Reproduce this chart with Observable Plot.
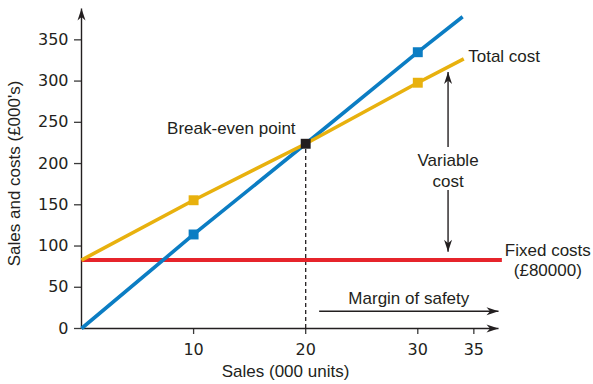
<!DOCTYPE html>
<html>
<head>
<meta charset="utf-8">
<script src="https://cdn.jsdelivr.net/npm/d3@7"></script>
<script src="https://cdn.jsdelivr.net/npm/@observablehq/plot@0.6"></script>
<style>
  html, body { margin: 0; padding: 0; background: #fff; }
  #chart svg { display: block; }
</style>
</head>
<body>
<div id="chart"></div>
<script>
// ---- data ----
const xTicks = [10, 20, 30, 35];
const yTicks = [0, 50, 100, 150, 200, 250, 300, 350];

const salesX = [0, 10, 20, 30, 34.0];
const salesY = [0, 114, 224, 335, 378];

const totalX = [0, 10, 20, 30, 34.1];
const totalY = [83, 155.5, 224, 298, 327];

const fixedX = [0, 37.5];
const fixedY = [83, 83];

const salesMarkX = [10, 30];
const salesMarkY = [114, 335];
const totalMarkX = [10, 30];
const totalMarkY = [155.5, 298];
const breakEvenX = [20];
const breakEvenY = [224];

const xLabel = "Sales (000 units)";
const yLabel = "Sales and costs (£000's)";
const labelsEnd = [{text: "Break-even point", x: 19.1, y: 242}];
const labelsStart = [{text: "Total cost", x: 34.5, y: 330}];
const labelsMiddle = [
  {text: "Variable\ncost", x: 32.7, y: 192},
  {text: "Fixed costs\n(£80000)", x: 41.6, y: 84},
  {text: "Margin of safety", x: 29.2, y: 37.5}
];

// annotation arrows: head at (x2, y2)
const arrows = [
  {x1: 0, y1: 0, x2: 37.2, y2: 0, dir: "right"},      // x axis
  {x1: 0, y1: 0, x2: 0, y2: 388, dir: "up"},          // y axis
  {x1: 21.2, y1: 21, x2: 37.2, y2: 21, dir: "right"}, // margin of safety
  {x1: 32.7, y1: 220, x2: 32.7, y2: 311, dir: "up"},  // variable cost up
  {x1: 32.7, y1: 168, x2: 32.7, y2: 93, dir: "down"}  // variable cost down
];

// ---- build ----
const pts = (xs, ys) => xs.map((x, i) => ({x, y: ys[i]}));

const stealth = (dir) => ({
  draw(ctx) {
    // tip at origin, body behind it
    const L = 12, W = 4, N = 8.5;
    const p = [[0, 0], [-L, -W], [-N, 0], [-L, W]];
    const rot = dir === "right" ? ([a, b]) => [a, b]
              : dir === "up" ? ([a, b]) => [b, -a]
              : ([a, b]) => [b, a];
    const q = p.map(rot);
    ctx.moveTo(q[0][0], q[0][1]);
    for (let i = 1; i < q.length; i++) ctx.lineTo(q[i][0], q[i][1]);
    ctx.closePath();
  }
});

const BLUE = "#0b7dc3", YELLOW = "#e8b10e", RED = "#e6242b", DARK = "#231f20", AXIS = "#3a3a3a";
const FONT = "Liberation Sans, Arial, sans-serif";
const TICKFONT = "DejaVu Sans, sans-serif";
const FS = 17;

const plot = Plot.plot({
  width: 593,
  height: 384,
  marginLeft: 81,
  marginRight: 95,
  marginTop: 8,
  marginBottom: 56,
  style: {fontFamily: FONT, fontSize: "16px", color: DARK, background: "#fff"},
  x: {domain: [0, 37.2]},
  y: {domain: [0, 388]},
  marks: [
    Plot.axisX({ticks: xTicks, tickSize: 6, tickPadding: 9, label: null, fontSize: 16, fontFamily: TICKFONT, fill: DARK, stroke: AXIS, strokeWidth: 1.3}),
    Plot.axisY({ticks: yTicks, tickSize: 7, tickPadding: 6, label: null, fontSize: 16, fontFamily: TICKFONT, fill: DARK, stroke: AXIS, strokeWidth: 1.3}),
    // axis titles
    Plot.text([xLabel], {x: 18.2, frameAnchor: "bottom", lineAnchor: "middle", dy: 43, text: d => d, fontSize: FS, fill: DARK}),
    Plot.text([yLabel], {y: 188, frameAnchor: "left", textAnchor: "middle", lineAnchor: "middle", dx: -67, rotate: -90, text: d => d, fontSize: FS, fill: DARK}),
    // arrows (axes + annotations)
    Plot.link(arrows, {x1: "x1", y1: "y1", x2: "x2", y2: "y2", stroke: DARK, strokeWidth: 1.4}),
    ...["right", "up", "down"].map(dir =>
      Plot.dot(arrows.filter(a => a.dir === dir), {x: "x2", y: "y2", symbol: stealth(dir), r: 5, fill: DARK, stroke: "none"})
    ),
    // break-even dashed drop line
    Plot.ruleX(breakEvenX, {x: d => d, y1: 0, y2: breakEvenY[0], stroke: DARK, strokeWidth: 1.3, strokeDasharray: "4,3"}),
    // lines
    Plot.line(pts(fixedX, fixedY), {x: "x", y: "y", stroke: RED, strokeWidth: 4, strokeLinecap: "butt"}),
    Plot.line(pts(salesX, salesY), {x: "x", y: "y", stroke: BLUE, strokeWidth: 3.6, strokeLinecap: "butt"}),
    Plot.line(pts(totalX, totalY), {x: "x", y: "y", stroke: YELLOW, strokeWidth: 3.6, strokeLinecap: "butt"}),
    // markers
    Plot.dot(pts(salesMarkX, salesMarkY), {x: "x", y: "y", symbol: "square", r: 5.6, fill: BLUE, stroke: "none"}),
    Plot.dot(pts(totalMarkX, totalMarkY), {x: "x", y: "y", symbol: "square", r: 5.6, fill: YELLOW, stroke: "none"}),
    Plot.dot(pts(breakEvenX, breakEvenY), {x: "x", y: "y", symbol: "square", r: 5.6, fill: DARK, stroke: "none"}),
    // labels
    Plot.text(labelsEnd, {x: "x", y: "y", text: "text", textAnchor: "end", fontSize: FS, fill: DARK}),
    Plot.text(labelsStart, {x: "x", y: "y", text: "text", textAnchor: "start", fontSize: FS, fill: DARK}),
    Plot.text(labelsMiddle, {x: "x", y: "y", text: "text", textAnchor: "middle", fontSize: FS, lineHeight: 1.22, fill: DARK})
  ]
});

document.getElementById("chart").appendChild(plot);
</script>
</body>
</html>
